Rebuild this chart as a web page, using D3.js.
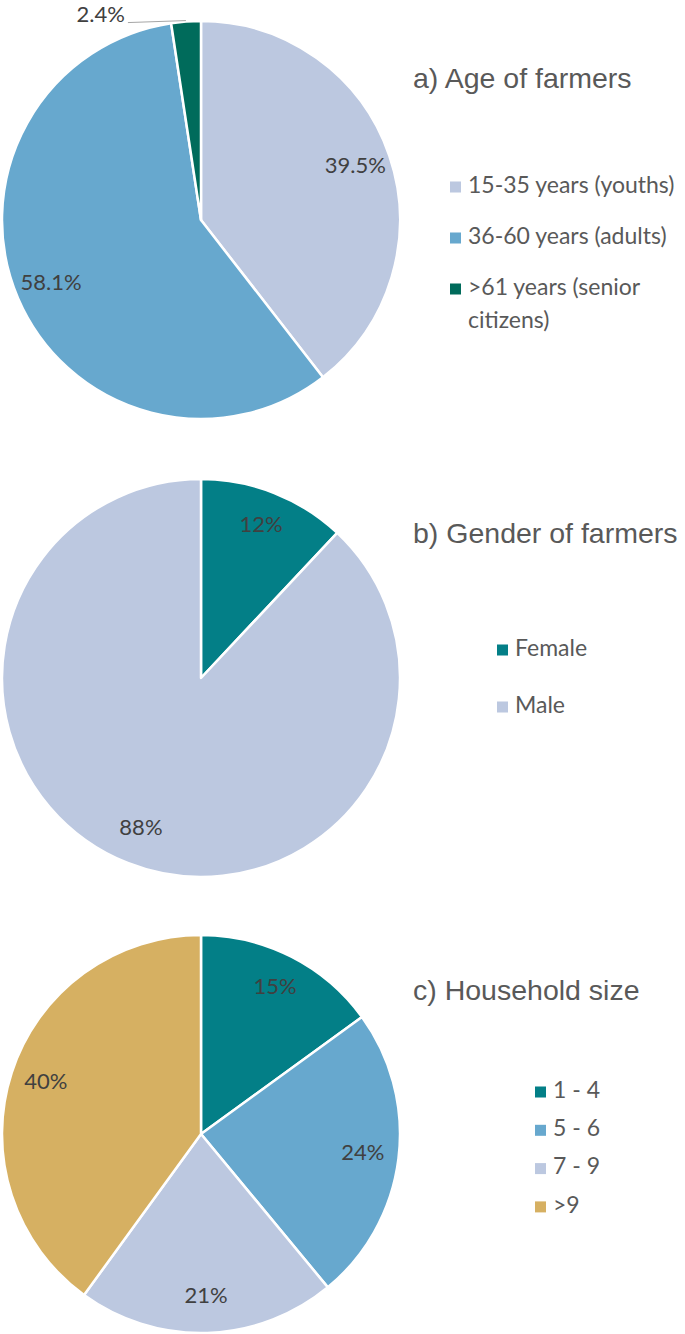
<!DOCTYPE html>
<html>
<head>
<meta charset="utf-8">
<script src="https://cdn.jsdelivr.net/npm/d3@7"></script>
<style>
  html, body { margin: 0; padding: 0; background: #fff; }
  svg { display: block; }
</style>
</head>
<body>
<div id="chart"></div>
<script>
// --- data ---
const ageLabels = ["15-35 years (youths)", "36-60 years (adults)", ">61 years (senior citizens)"]
const ageValues = [39.5, 58.1, 2.4]
const ageText = ["39.5%", "58.1%", "2.4%"]
const ageColors = ["#bcc8e0", "#67a8ce", "#006b5b"]

const genderLabels = ["Female", "Male"]
const genderValues = [12, 88]
const genderText = ["12%", "88%"]
const genderColors = ["#037f87", "#bcc8e0"]

const hhLabels = ["1 - 4", "5 - 6", "7 - 9", ">9"]
const hhValues = [15, 24, 21, 40]
const hhText = ["15%", "24%", "21%", "40%"]
const hhColors = ["#037f87", "#67a8ce", "#bcc8e0", "#d6b062"]

const width = 685, height = 1334
const R = 199
const labelFont = "Lato, 'Open Sans', sans-serif"

const svg = d3.select("#chart").append("svg")
  .attr("width", width)
  .attr("height", height)

const panels = [
  { title: "a) Age of farmers", labels: ageLabels, values: ageValues, text: ageText, colors: ageColors,
    cy: 220, titleY: 88, legendX: 450, legendY: 187, legendStep: 51, wrap: [null, null, [">61 years (senior", "citizens)"]],
    outside: [false, false, true] },
  { title: "b) Gender of farmers", labels: genderLabels, values: genderValues, text: genderText, colors: genderColors,
    cy: 678, titleY: 543, legendX: 497, legendY: 650, legendStep: 57, wrap: [], outside: [false, false] },
  { title: "c) Household size", labels: hhLabels, values: hhValues, text: hhText, colors: hhColors,
    cy: 1134, titleY: 1000, legendX: 535, legendY: 1092, legendStep: 38.3, wrap: [], outside: [false, false, false, false] }
]

const cx = 201

panels.forEach(p => {
  const g = svg.append("g").attr("transform", `translate(${cx},${p.cy})`)
  const pie = d3.pie().sort(null).value(d => d)
  const arcs = pie(p.values)
  const arc = d3.arc().innerRadius(0).outerRadius(R)
  const labelArc = d3.arc().innerRadius(R * 0.82).outerRadius(R * 0.82)

  g.selectAll("path.slice")
    .data(arcs)
    .enter()
    .append("path")
    .attr("class", "slice")
    .attr("d", arc)
    .attr("fill", (d, i) => p.colors[i])
    .attr("stroke", "#fff")
    .attr("stroke-width", 2.5)
    .attr("stroke-linejoin", "round")

  arcs.forEach((d, i) => {
    if (p.outside[i]) {
      // small slice: label sits outside with a leader line
      const mid = (d.startAngle + d.endAngle) / 2
      const ex = Math.sin(mid) * (R + 1)
      const ey = -Math.cos(mid) * (R + 1)
      const lx = ex - 58
      const ly = ey + 2
      g.append("polyline")
        .attr("points", `${lx},${ly} ${ex},${ey}`)
        .attr("fill", "none")
        .attr("stroke", "#a6a6a6")
        .attr("stroke-width", 1)
      g.append("text")
        .attr("x", lx - 3)
        .attr("y", ly - 6)
        .attr("text-anchor", "end")
        .attr("dominant-baseline", "middle")
        .attr("fill", "#404040")
        .style("font-family", labelFont)
        .style("font-size", "22px")
        .text(p.text[i])
    } else {
      const c = labelArc.centroid(d)
      g.append("text")
        .attr("x", c[0])
        .attr("y", c[1])
        .attr("text-anchor", "middle")
        .attr("dominant-baseline", "middle")
        .attr("fill", "#404040")
        .style("font-family", labelFont)
        .style("font-size", "22px")
        .text(p.text[i])
    }
  })

  // title
  svg.append("text")
    .attr("x", 413)
    .attr("y", p.titleY)
    .attr("fill", "#595959")
    .style("font-family", "'Liberation Sans', Arial, sans-serif")
    .style("font-size", "28.5px")
    .text(p.title)

  // legend
  const lg = svg.append("g")
  p.labels.forEach((lab, i) => {
    const y = p.legendY + i * p.legendStep
    lg.append("rect")
      .attr("x", p.legendX)
      .attr("y", y - 5.5)
      .attr("width", 11)
      .attr("height", 11)
      .attr("fill", p.colors[i])
    const lines = p.wrap[i] || [lab]
    const t = lg.append("text")
      .attr("x", p.legendX + 18)
      .attr("y", y)
      .attr("fill", "#595959")
      .style("font-family", labelFont)
      .style("font-size", "23px")
    lines.forEach((ln, k) => {
      t.append("tspan")
        .attr("x", p.legendX + 18)
        .attr("y", y + k * 33)
        .attr("dominant-baseline", "middle")
        .text(ln)
    })
  })
})
</script>
</body>
</html>
